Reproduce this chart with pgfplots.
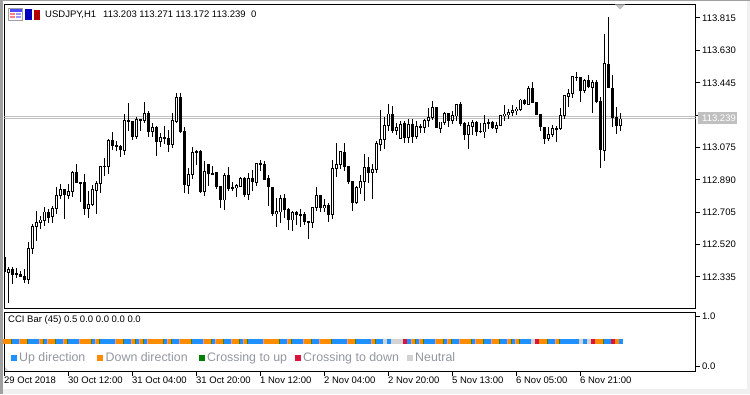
\documentclass[border=0pt]{standalone}
\usepackage{pgfplots}
\usepackage{pgfplotstable}
\usepackage{fontspec}
\setmainfont{Liberation Sans}
\pgfplotsset{compat=1.18}
\definecolor{winbg}{HTML}{F0F0F0}
\definecolor{edge}{HTML}{A0A0A0}
\definecolor{bidline}{HTML}{C0C0C0}
\definecolor{cUp}{HTML}{1E90FF}
\definecolor{cDown}{HTML}{FF8C00}
\definecolor{cCrossUp}{HTML}{008000}
\definecolor{cCrossDown}{HTML}{DC143C}
\definecolor{cNeutral}{HTML}{D3D3D3}
\definecolor{legtext}{HTML}{9297A0}
\pgfdeclareplotmark{nomark}{}
\pgfdeclareplotmark{cell}{\pgfpathrectangle{\pgfpoint{-1.5pt}{-2.75pt}}{\pgfpoint{4pt}{5.5pt}}\pgfusepathqfill}
\pgfdeclareplotmark{sliver}{\pgfpathrectangle{\pgfpoint{-1.5pt}{-2.75pt}}{\pgfpoint{1pt}{5.5pt}}\pgfusepathqfill}
\pgfplotstableread{
k o h l c
1 112.360 112.394 112.185 112.379
6 112.322 112.535 112.295 112.501
7 112.497 112.638 112.467 112.627
8 112.623 112.711 112.543 112.649
9 112.645 112.684 112.611 112.661
10 112.657 112.733 112.627 112.707
12 112.680 112.741 112.645 112.729
13 112.725 112.851 112.695 112.802
14 112.802 112.867 112.783 112.836
16 112.802 112.867 112.783 112.825
17 112.825 112.939 112.794 112.935
21 112.725 112.825 112.672 112.748
22 112.752 112.859 112.741 112.836
23 112.828 112.882 112.695 112.871
24 112.871 112.969 112.817 112.969
25 112.965 113.015 112.912 112.969
26 112.965 113.122 112.924 113.118
30 113.061 113.267 113.034 113.232
33 113.137 113.251 113.122 113.236
35 113.228 113.335 113.217 113.271
37 113.164 113.214 113.134 113.191
39 113.107 113.156 113.080 113.134
42 113.091 113.271 113.072 113.232
43 113.225 113.385 113.217 113.362
46 112.859 112.958 112.810 112.924
47 112.920 113.076 112.897 113.049
50 112.825 112.996 112.798 112.939
55 112.775 112.928 112.718 112.916
58 112.844 112.867 112.794 112.859
59 112.855 112.905 112.848 112.901
61 112.805 112.928 112.775 112.901
63 112.878 112.985 112.855 112.985
68 112.695 112.787 112.623 112.711
69 112.707 112.805 112.645 112.787
72 112.661 112.714 112.600 112.707
77 112.645 112.733 112.615 112.733
78 112.729 112.848 112.714 112.802
80 112.729 112.779 112.707 112.745
82 112.691 113.004 112.668 112.958
83 112.954 113.099 112.908 112.981
84 112.977 113.053 112.954 113.053
88 112.760 112.855 112.752 112.848
89 112.844 112.916 112.810 112.882
90 112.878 113.038 112.771 112.962
92 112.931 112.981 112.783 112.951
93 112.951 113.111 112.928 113.099
94 113.091 113.289 113.057 113.122
95 113.122 113.251 113.068 113.202
96 113.202 113.324 113.171 113.267
98 113.171 113.217 113.145 113.191
99 113.126 113.228 113.126 113.205
101 113.134 113.240 113.103 113.209
103 113.137 113.228 113.122 113.198
105 113.191 113.236 113.160 113.232
106 113.228 113.301 113.194 113.248
107 113.244 113.339 113.232 113.305
109 113.183 113.221 113.156 113.221
110 113.217 113.278 113.202 113.271
112 113.228 113.286 113.209 113.259
113 113.255 113.324 113.225 113.324
116 113.148 113.221 113.068 113.202
117 113.198 113.232 113.145 113.221
120 113.164 113.259 113.129 113.214
123 113.183 113.221 113.156 113.202
124 113.202 113.259 113.198 113.259
125 113.259 113.316 113.228 113.267
126 113.263 113.297 113.236 113.278
127 113.274 113.316 113.255 113.289
128 113.286 113.305 113.263 113.297
129 113.294 113.354 113.286 113.347
131 113.324 113.427 113.324 113.415
136 113.126 113.194 113.111 113.152
137 113.148 113.205 113.134 113.183
139 113.183 113.301 113.175 113.259
140 113.259 113.374 113.240 113.374
141 113.369 113.408 113.305 113.385
142 113.385 113.484 113.358 113.484
145 113.400 113.465 113.388 113.461
147 113.419 113.461 113.274 113.449
150 113.061 113.724 112.996 113.556
154 113.203 113.271 113.172 113.239
}\uptable
\pgfplotstableread{
k o h l c
0 112.449 112.455 112.358 112.364
2 112.379 112.391 112.295 112.348
3 112.356 112.387 112.330 112.348
4 112.351 112.371 112.333 112.337
5 112.345 112.379 112.303 112.318
11 112.707 112.725 112.645 112.672
15 112.836 112.838 112.668 112.802
18 112.935 112.981 112.874 112.874
19 112.878 112.878 112.764 112.867
20 112.878 112.924 112.691 112.725
27 113.118 113.164 113.061 113.084
28 113.088 113.114 113.057 113.080
29 113.084 113.091 113.018 113.061
31 113.232 113.331 113.168 113.221
32 113.228 113.228 113.118 113.137
34 113.236 113.240 113.168 113.228
36 113.271 113.286 113.137 113.164
38 113.191 113.198 113.027 113.107
40 113.134 113.198 113.095 113.126
41 113.129 113.175 113.049 113.091
44 113.362 113.385 113.160 113.164
45 113.168 113.194 112.817 112.859
48 113.057 113.061 112.977 113.045
49 113.057 113.061 112.817 112.821
51 112.981 112.981 112.855 112.924
52 112.928 112.969 112.918 112.924
53 112.935 112.935 112.840 112.848
54 112.855 112.855 112.729 112.775
56 112.916 112.962 112.828 112.836
57 112.848 112.878 112.828 112.840
60 112.901 112.908 112.794 112.802
62 112.901 112.947 112.828 112.878
64 112.985 113.004 112.943 112.977
65 112.981 113.000 112.893 112.893
66 112.901 112.916 112.741 112.848
67 112.848 112.848 112.684 112.695
70 112.787 112.810 112.672 112.722
71 112.725 112.729 112.604 112.661
73 112.707 112.714 112.631 112.691
74 112.695 112.722 112.619 112.691
75 112.695 112.707 112.634 112.649
76 112.654 112.654 112.554 112.645
79 112.802 112.805 112.707 112.729
81 112.745 112.756 112.649 112.691
85 113.053 113.099 112.943 112.965
86 112.969 112.969 112.867 112.878
87 112.882 112.882 112.714 112.760
91 112.962 113.019 112.874 112.931
97 113.267 113.312 113.160 113.171
100 113.214 113.228 113.103 113.129
102 113.209 113.236 113.103 113.137
104 113.198 113.209 113.160 113.191
108 113.305 113.308 113.187 113.187
111 113.271 113.274 113.194 113.228
114 113.324 113.335 113.198 113.209
115 113.214 113.221 113.118 113.148
118 113.221 113.228 113.141 113.164
119 113.171 113.217 113.160 113.164
121 113.221 113.236 113.179 113.214
122 113.221 113.228 113.183 113.187
130 113.347 113.351 113.316 113.324
132 113.415 113.449 113.331 113.331
133 113.335 113.335 113.259 113.263
134 113.267 113.267 113.171 113.191
135 113.194 113.194 113.095 113.126
138 113.187 113.198 113.107 113.179
143 113.480 113.507 113.453 113.476
144 113.480 113.480 113.335 113.400
146 113.461 113.488 113.415 113.423
148 113.449 113.461 113.331 113.335
149 113.339 113.365 112.958 113.061
151 113.552 113.819 113.415 113.415
152 113.419 113.488 113.191 113.244
153 113.248 113.305 113.152 113.198
}\downtable
\pgfplotsset{mt/.style={
  scale only axis, width=691pt, xmin=0, xmax=172.75,
  axis line style={black,line width=1pt},
  tick align=outside, major tick length=4.5pt,
  major tick style={black,line width=1pt},
  tick label style={font=\fontsize{9.5}{11}\selectfont,inner sep=0pt},
},
candle/.style={only marks,mark=nomark,forget plot,error bars/.cd,y dir=both,y explicit,error mark=nomark,error bar style={#1}}}
\begin{document}
\begin{tikzpicture}[x=1pt,y=1pt]
\fill[winbg] (0,0) rectangle (750,394);
\fill[white] (2,5) rectangle (747,393);
\fill[edge] (0,0) rectangle (2.6,394);
\fill[edge] (0,393) rectangle (750,394);
\begin{axis}[mt, at={(4.5pt,85.5pt)}, anchor=south west, height=304pt,
  ymin=112.155, ymax=113.892,
  xtick=\empty, ytick pos=right,
  ytick={112.335,112.520,112.705,112.890,113.075,113.260,113.445,113.630,113.815},
  yticklabels={112.335,112.520,112.705,112.890,113.075,,113.445,113.630,113.815},
  yticklabel style={anchor=west,xshift=2pt},
]
\addplot[bidline,line width=1pt,forget plot] coordinates {(-1,113.251) (174,113.251)};
\addplot[bidline,line width=1pt,forget plot] coordinates {(-1,113.240) (174,113.240)};
% wicks
\addplot[candle={black,line width=1pt}]
  table[x=k,y=o,y error plus expr={\thisrow{h}-\thisrow{o}},y error minus expr={\thisrow{o}-\thisrow{l}}] {\uptable};
\addplot[candle={black,line width=1pt}]
  table[x=k,y=o,y error plus expr={\thisrow{h}-\thisrow{o}},y error minus expr={\thisrow{o}-\thisrow{l}}] {\downtable};
% bodies
\addplot[candle={black,line width=3pt}]
  table[x=k,y expr={(\thisrow{o}+\thisrow{c})/2},y error expr={max(abs(\thisrow{o}-\thisrow{c})/2,0.003)}] {\downtable};
\addplot[candle={black,line width=3pt}]
  table[x=k,y expr={(\thisrow{o}+\thisrow{c})/2},y error expr={max(abs(\thisrow{o}-\thisrow{c})/2+0.002,0.004)}] {\uptable};
\addplot[candle={white,line width=1pt}]
  table[x=k,y expr={(\thisrow{o}+\thisrow{c})/2},y error expr={max(abs(\thisrow{o}-\thisrow{c})/2-0.003,0)}] {\uptable};
\end{axis}
\begin{axis}[mt, at={(4.5pt,22.5pt)}, anchor=south west, height=59pt,
  ymin=-0.111, ymax=1.081,
  ytick={0,1}, yticklabels={0.0,1.0}, ytick pos=right, xtick pos=bottom,
  yticklabel style={anchor=west,xshift=2pt},
  xtick={0,16,32,48,64,80,96,112,128,144},
  xticklabels={29 Oct 2018,30 Oct 12:00,31 Oct 04:00,31 Oct 20:00,1 Nov 12:00,2 Nov 04:00,2 Nov 20:00,5 Nov 13:00,6 Nov 05:00,6 Nov 21:00},
  xticklabel style={anchor=base west,yshift=-7.5pt,xshift=-0.5pt},
]
\addplot[only marks,mark=cell,cUp,forget plot] coordinates {
(2,.5)(3,.5)(6,.5)(7,.5)(8,.5)(10,.5)(13,.5)(14,.5)(16,.5)(17,.5)(18,.5)(22,.5)(24,.5)(25,.5)(26,.5)(27,.5)(30,.5)(31,.5)(33,.5)(35,.5)(40,.5)(42,.5)(43,.5)(47,.5)(48,.5)(49,.5)(52,.5)(55,.5)(56,.5)(59,.5)(61,.5)(62,.5)(63,.5)(64,.5)(69,.5)(70,.5)(72,.5)(73,.5)(74,.5)(77,.5)(78,.5)(82,.5)(83,.5)(84,.5)(85,.5)(88,.5)(89,.5)(90,.5)(91,.5)(93,.5)(94,.5)(96,.5)(101,.5)(103,.5)(105,.5)(106,.5)(107,.5)(110,.5)(112,.5)(113,.5)(117,.5)(120,.5)(121,.5)(124,.5)(125,.5)(127,.5)(129,.5)(130,.5)(131,.5)(136,.5)(137,.5)(139,.5)(140,.5)(141,.5)(142,.5)(143,.5)(145,.5)(150,.5)(151,.5)(154,.5)};
\addplot[only marks,mark=cell,cDown,forget plot] coordinates {
(0,.5)(1,.5)(4,.5)(5,.5)(9,.5)(11,.5)(12,.5)(15,.5)(19,.5)(20,.5)(21,.5)(23,.5)(28,.5)(29,.5)(32,.5)(34,.5)(36,.5)(37,.5)(38,.5)(39,.5)(41,.5)(44,.5)(45,.5)(46,.5)(50,.5)(51,.5)(53,.5)(54,.5)(57,.5)(58,.5)(60,.5)(65,.5)(66,.5)(67,.5)(68,.5)(71,.5)(75,.5)(76,.5)(79,.5)(80,.5)(81,.5)(86,.5)(87,.5)(92,.5)(102,.5)(104,.5)(108,.5)(109,.5)(111,.5)(114,.5)(115,.5)(116,.5)(118,.5)(119,.5)(122,.5)(123,.5)(126,.5)(128,.5)(134,.5)(135,.5)(138,.5)(148,.5)(149,.5)(153,.5)};
\addplot[only marks,mark=cell,cCrossDown,forget plot] coordinates {(100,.5)(133,.5)(147,.5)(152,.5)};
\addplot[only marks,mark=cell,cNeutral,forget plot] coordinates {(95,.5)(97,.5)(98,.5)(99,.5)(132,.5)(144,.5)(146,.5)};
% thin crossing slivers at each change of direction
\addplot[only marks,mark=sliver,cCrossUp!75!cDown,forget plot] coordinates {
(2,.5)(6,.5)(10,.5)(13,.5)(16,.5)(22,.5)(24,.5)(30,.5)(33,.5)(35,.5)(40,.5)(42,.5)(47,.5)(52,.5)(55,.5)(59,.5)(61,.5)(69,.5)(72,.5)(77,.5)(82,.5)(88,.5)(93,.5)(103,.5)(105,.5)(110,.5)(112,.5)(117,.5)(120,.5)(124,.5)(127,.5)(129,.5)(136,.5)(139,.5)(150,.5)};
\addplot[only marks,mark=sliver,cCrossDown!45!white,forget plot] coordinates {
(4,.5)(9,.5)(11,.5)(15,.5)(19,.5)(23,.5)(28,.5)(32,.5)(34,.5)(36,.5)(41,.5)(44,.5)(50,.5)(53,.5)(57,.5)(60,.5)(65,.5)(71,.5)(75,.5)(79,.5)(86,.5)(92,.5)(102,.5)(104,.5)(108,.5)(111,.5)(114,.5)(118,.5)(122,.5)(126,.5)(128,.5)(138,.5)};
\end{axis}
% price box, marker and corner
\fill[bidline] (698,270) rectangle (737,282);
\node[anchor=base west,inner sep=0pt,white,font=\fontsize{9.5}{11}\selectfont] at (702,272.5) {113.239};
\fill[bidline] (615,389.5) -- (625,389.5) -- (620,384.5) -- cycle;
\fill[cNeutral] (5,27) -- (5,23.5) -- (8.5,23.5) -- cycle;
% toolbar icons
\fill[white,draw=edge,line width=.8pt] (8.5,373.5) rectangle (22.5,385.5);
\fill[blue!70!white] (9.5,382) rectangle (21.5,384.5);
\foreach \yy in {379,376}{\fill[red!50!white] (10,\yy) rectangle (15,\yy+1.7);\fill[blue!40!white] (16,\yy) rectangle (21,\yy+1.7);}
\fill[blue!75!black] (25,374) rectangle (32,385);
\fill[red!70!black] (33.5,374) rectangle (40,384);
% texts
\begin{scope}[every node/.style={anchor=base west,inner sep=0pt,font=\fontsize{9.5}{11}\selectfont}]
\node at (45,376) {USDJPY,H1};
\node at (103,376) {113.203 113.271 113.172 113.239};
\node at (251,376) {0};
\node at (8,71) {CCI Bar (45) 0.5 0.0 0.0 0.0 0.0};
\end{scope}
\begin{scope}[every node/.style={anchor=base west,inner sep=0pt,legtext,font=\fontsize{12.4}{14}\selectfont}]
\fill[cUp] (11,33) rectangle (16.7,38.7);
\node at (19,32.3) {Up direction};
\fill[cDown] (97,33) rectangle (102.7,38.7);
\node at (105.5,32.3) {Down direction};
\fill[cCrossUp] (199,33) rectangle (204.7,38.7);
\node at (207,32.3) {Crossing to up};
\fill[cCrossDown] (295,33) rectangle (300.7,38.7);
\node at (303,32.3) {Crossing to down};
\fill[cNeutral] (407,33) rectangle (412.7,38.7);
\node at (415,32.3) {Neutral};
\end{scope}
\end{tikzpicture}
\end{document}
